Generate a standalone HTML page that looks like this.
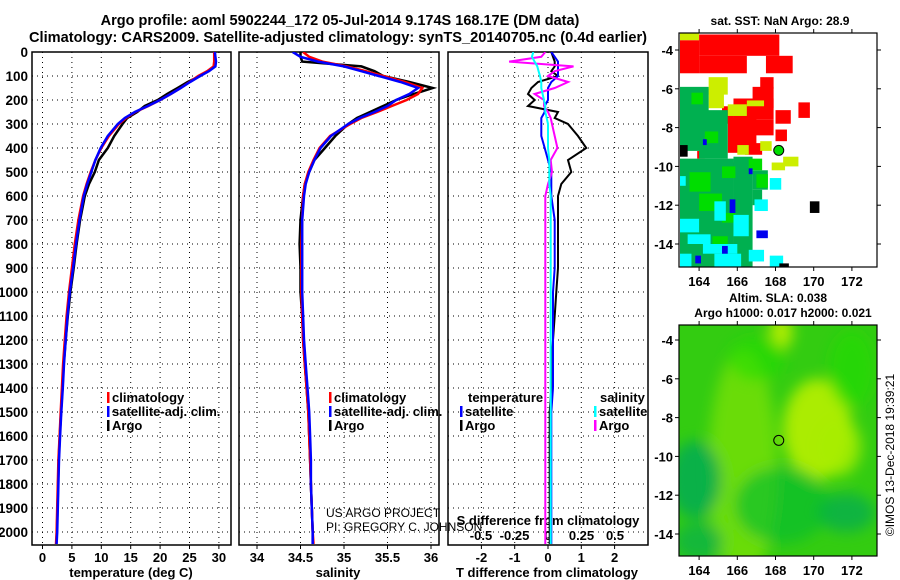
<!DOCTYPE html>
<html><head><meta charset="utf-8">
<style>
html,body{margin:0;padding:0;background:#fff;}
svg{display:block;font-family:"Liberation Sans",sans-serif;}
.b{font-weight:bold;}
</style></head>
<body>
<svg id="fig" width="900" height="580" viewBox="0 0 900 580">
<defs>
<clipPath id="c1"><rect x="32" y="52" width="199" height="493"/></clipPath>
<clipPath id="c2"><rect x="239" y="52" width="200" height="493"/></clipPath>
<clipPath id="c3"><rect x="448" y="52" width="200" height="493"/></clipPath>
<clipPath id="cm1"><rect x="679" y="33" width="198" height="234"/></clipPath>
<clipPath id="cm2"><rect x="679" y="325" width="198" height="231"/></clipPath>
<filter id="blur" x="-50%" y="-50%" width="200%" height="200%"><feGaussianBlur stdDeviation="7"/></filter>
</defs>
<text x="340" y="25" text-anchor="middle" class="b" font-size="14.5">Argo profile: aoml 5902244_172 05-Jul-2014 9.174S 168.17E (DM data)</text>
<text x="338" y="42" text-anchor="middle" class="b" font-size="14.6">Climatology: CARS2009. Satellite-adjusted climatology: synTS_20140705.nc (0.4d earlier)</text>
<g id="g"></g>
<text x="780" y="25" text-anchor="middle" class="b" font-size="12">sat. SST: NaN Argo: 28.9</text>
<text x="778" y="302" text-anchor="middle" class="b" font-size="12">Altim. SLA: 0.038</text>
<text x="783" y="317" text-anchor="middle" class="b" font-size="12">Argo h1000: 0.017 h2000: 0.021</text>
<text transform="translate(894,455) rotate(-90)" text-anchor="middle" font-size="12">©IMOS 13-Dec-2018 19:39:21</text>
</svg>
<script>
const depths=[0,20,40,60,80,100,125,150,175,200,225,250,275,300,350,400,450,500,550,600,700,800,900,1000,1100,1200,1300,1400,1500,1600,1700,1800,1900,2000,2050];
const climT=[29.2,29.2,29.2,29.1,28,26.5,25,23.5,21.8,20,18,15.8,14.2,13,11.3,10,9,8.2,7.5,6.9,6.1,5.5,5.0,4.5,4.1,3.8,3.5,3.3,3.1,2.9,2.7,2.6,2.5,2.4,2.3];
const satT=[29.3,29.4,29.5,29.4,28.3,26.8,25.1,23.5,21.8,20,17.9,15.7,14,12.8,11.1,9.9,9.0,8.3,7.6,7.0,6.3,5.7,5.2,4.65,4.25,3.95,3.65,3.45,3.2,3.0,2.8,2.7,2.6,2.5,2.4];
const argoT=[29.3,29.35,29.4,29.3,28.1,26.8,24.7,23,21.2,19.6,17.4,16.1,14.4,13.6,12.2,11.1,9.6,8.9,7.9,7.2,6.4,5.8,5.3,4.75,4.3,3.95,3.6,3.4,3.15,2.95,2.75,2.65,2.55,2.45,2.35];
const climS=[34.53,34.6,34.75,35.03,35.25,35.45,35.7,35.9,35.85,35.72,35.55,35.38,35.2,35.07,34.84,34.72,34.65,34.59,34.55,34.53,34.52,34.51,34.51,34.51,34.52,34.53,34.55,34.57,34.59,34.6,34.61,34.62,34.63,34.64,34.65];
const satS=[34.41,34.5,34.7,35.0,35.2,35.4,35.65,35.85,35.75,35.6,35.5,35.35,35.18,35.05,34.85,34.73,34.66,34.6,34.56,34.54,34.52,34.52,34.52,34.52,34.53,34.54,34.56,34.58,34.6,34.61,34.62,34.62,34.63,34.64,34.64];
const argoS=[34.5,34.5,34.52,35.2,35.35,35.45,35.75,36.02,35.8,35.6,35.45,35.3,35.15,35.05,34.9,34.78,34.66,34.6,34.55,34.53,34.5,34.49,34.5,34.5,34.52,34.53,34.55,34.57,34.59,34.6,34.61,34.62,34.63,34.64,34.64];
const dTsat=[0.1,0.2,0.3,0.3,0.3,0.3,0.1,0,0,0,-0.1,-0.1,-0.2,-0.2,-0.2,-0.1,0,0.1,0.1,0.1,0.2,0.2,0.2,0.15,0.15,0.15,0.15,0.15,0.1,0.1,0.1,0.1,0.1,0.1,0.1];
const dTargo=[0.1,0.15,0.2,0.2,0.1,0.3,-0.3,-0.5,-0.6,-0.4,-0.6,0.3,0.2,0.6,0.9,1.15,0.6,0.7,0.4,0.3,0.3,0.3,0.3,0.25,0.2,0.15,0.1,0.1,0.05,0.05,0.05,0.05,0.05,0.05,0.05];
const dSsat=[-0.11,-0.12,-0.1,-0.08,-0.07,-0.06,-0.05,-0.05,-0.04,-0.03,-0.02,-0.02,-0.01,0,0,0,0.01,0.01,0.01,0.02,0.02,0.02,0.02,0.02,0.02,0.02,0.02,0.02,0.02,0.02,0.02,0.02,0.02,0.02,0.02];
const dSargo=[-0.02,-0.05,-0.29,0.19,0.05,0.0,0.15,0.05,-0.1,-0.03,-0.03,0,0.02,0.03,0.05,0.07,0.02,0.03,0,-0.02,-0.02,-0.02,-0.02,-0.02,-0.02,-0.02,-0.02,-0.02,-0.02,-0.02,-0.02,-0.02,-0.02,-0.02,-0.02];
const depthTicks=[0,100,200,300,400,500,600,700,800,900,1000,1100,1200,1300,1400,1500,1600,1700,1800,1900,2000];
const tTicks=[0,5,10,15,20,25,30];
const sTicks=[34,34.5,35,35.5,36];
const dTTicks=[-2,-1,0,1,2];
const dSTicks=[-0.5,-0.25,0,0.25,0.5];
const sstRects=[
 [163,-3.1,164,-3.5,"#ccee00"],[164,-3.2,168.2,-4.3,"#ff0000"],[163,-3.5,164,-5.2,"#ff0000"],[164,-4.3,166.5,-5.2,"#ff0000"],
 [167.5,-4.3,168.9,-5.2,"#ff0000"],[167.2,-5.4,167.9,-6.0,"#ff0000"],[166.8,-5.9,167.9,-7.0,"#ff0000"],[165.8,-6.5,167.9,-7.6,"#ff0000"],
 [168,-7.1,168.8,-7.8,"#ff0000"],[169.2,-6.7,169.8,-7.5,"#ff0000"],[165.5,-7.5,167,-9.3,"#ff0000"],[166.4,-8.8,167.3,-9.4,"#ff0000"],
 [166.8,-7.6,167.9,-8.4,"#ff0000"],[165.2,-6.9,165.8,-7.8,"#ff0000"],[164.3,-7.7,165,-8.1,"#ff0000"],
 [168.0,-8.1,168.6,-8.7,"#ff0000"],[163,-7.7,163.9,-8.8,"#ff0000"],[163.9,-9.2,164.3,-9.6,"#ff0000"],[165,-9.8,166.3,-10.3,"#ff0000"],
 [164.5,-5.4,165.5,-6.3,"#ccee00"],[164.5,-6.0,165.3,-7.0,"#ccee00"],[165.5,-6.8,166.5,-7.4,"#ccee00"],[166.5,-6.6,167.4,-6.9,"#ccee00"],
 [167.8,-9.8,168.5,-10.2,"#ccee00"],[168.4,-9.5,169.2,-10.0,"#ccee00"],[167.2,-8.7,167.8,-9.2,"#ccee00"],[166.0,-8.9,166.6,-9.4,"#ccee00"],
 [163,-5.9,164.5,-9.2,"#00b050"],[163.6,-6.2,164.2,-6.8,"#00dd00"],[164,-7.1,165.5,-9.6,"#00b050"],[164.3,-8.2,165,-8.8,"#00dd00"],
 [163,-9.6,165.8,-15.2,"#00b050"],[165.8,-9.5,166.8,-15.2,"#00b050"],[166.8,-10.2,167.6,-11.2,"#00b050"],[166.8,-11.2,167.3,-12.0,"#00b050"],
 [163.5,-10.3,164.6,-11.3,"#00dd00"],[165.2,-10.0,165.9,-10.6,"#00dd00"],[164,-11.4,165.2,-12.3,"#00dd00"],[166.6,-9.6,167.3,-10.2,"#00dd00"],
 [167.0,-10.4,167.6,-11.1,"#00dd00"],[165.2,-12.4,165.9,-12.9,"#00dd00"],[164.7,-13.6,165.5,-14.1,"#00dd00"],
 [163,-10.5,163.3,-11.0,"#00ffff"],[164.8,-11.8,165.4,-12.8,"#00ffff"],[163,-12.7,164,-13.4,"#00ffff"],[163.4,-13.5,164.6,-14.0,"#00ffff"],
 [164.2,-14.0,166,-14.5,"#00ffff"],[163,-14.5,163.6,-15.2,"#00ffff"],[165.8,-12.5,166.6,-13.6,"#00ffff"],[164.8,-14.5,166.2,-15.2,"#00ffff"],
 [166.6,-14.3,167.4,-14.9,"#00ffff"],[167.7,-10.6,168.3,-11.2,"#00ffff"],[166.9,-11.7,167.6,-12.3,"#00ffff"],[167.7,-14.6,168.4,-15.2,"#00ffff"],
 [165.6,-11.7,165.9,-12.4,"#0000ee"],[167.0,-13.3,167.6,-13.7,"#0000ee"],[163.8,-14.6,164.1,-15.0,"#0000ee"],[165.2,-14.1,165.5,-14.5,"#0000ee"],
 [164.2,-8.6,164.4,-8.9,"#0000ee"],[166.6,-10.1,166.8,-10.4,"#0000ee"],
 [163,-8.9,163.4,-9.5,"#000000"],[169.8,-11.8,170.3,-12.4,"#000000"],[168.2,-15.0,168.7,-15.2,"#000000"]];
const slaBlobs=[[166.3,-10.5,1.8,6,"#a0ee00",0.5],[170.2,-8.6,1.8,2.6,"#b8f000",0.9],[171.3,-9.5,1.2,1.5,"#a8ee00",0.8],
 [168.3,-3.6,0.6,0.9,"#bbf000",0.9],[163.8,-11.2,1.4,2,"#00aa55",0.8],[171.7,-12.9,1.5,1,"#00aa55",0.7],[168.3,-12.5,2.5,2,"#00bb33",0.6],
 [164,-14.4,1.3,1,"#00aa55",0.6],[167,-5,1.5,1.2,"#22dd00",0.6],[172,-5.5,1.2,2,"#22dd00",0.6]];
const NS="http://www.w3.org/2000/svg";
const G=document.getElementById('g');
function mk(tag,at,par){const e=document.createElementNS(NS,tag);for(const k in at)e.setAttribute(k,at[k]);(par||G).appendChild(e);return e;}
const yD=d=>52+d*0.24;
const xT=t=>42.5+t*5.88, xS=s=>257+(s-34)*87, xdT=t=>548+t*33.3, xdS=s=>548+s*134;
const dot="1,4";
function frame(x0,x1,name,vt,fx){
  const gg=mk('g',{});
  
  
  depthTicks.forEach(d=>{const l=mk('line',{x1:x0,x2:x1,y1:yD(d),y2:yD(d),stroke:'#000','stroke-dasharray':dot,'stroke-width':1},gg);
    
    });
  vt.forEach(v=>{const l=mk('line',{x1:fx(v),x2:fx(v),y1:52,y2:545,stroke:'#000','stroke-dasharray':dot,'stroke-width':1},gg);
    
    
    mk('line',{x1:fx(v),x2:fx(v),y1:545,y2:549,stroke:'#000'},gg);});
  const r=mk('rect',{x:x0,y:52,width:x1-x0,height:493,fill:'none',stroke:'#000','stroke-width':1.5},gg);
  
  
  return gg;
}
function line(xs,fx,col,clip,name,w){
  const p=mk('polyline',{points:depths.map((d,i)=>fx(xs[i]).toFixed(1)+','+yD(d).toFixed(1)).join(' '),fill:'none',stroke:col,'stroke-width':w||2.5,'clip-path':'url(#'+clip+')','stroke-linejoin':'miter'});
  
  
}
function txt(x,y,s,o){const t=mk('text',Object.assign({x:x,y:y,'font-size':13,'font-weight':'bold'},o||{}));t.textContent=s;return t;}
frame(32,231,'temperature-panel',tTicks,xT);
frame(239,439,'salinity-panel',sTicks,xS);
frame(448,648,'difference-panel',dTTicks,xdT);
depthTicks.forEach(d=>{const t=txt(28,yD(d)+5,String(d),{'text-anchor':'end','font-size':13.5});
  
  });
tTicks.forEach(v=>{const t=txt(xT(v),562,String(v),{'text-anchor':'middle'});
  
  });
sTicks.forEach(v=>{const t=txt(xS(v),562,String(v),{'text-anchor':'middle'});
  
  });
dTTicks.forEach(v=>{const t=txt(xdT(v),562,String(v),{'text-anchor':'middle'});
  
  });
dSTicks.forEach(v=>{const t=txt(xdS(v),540,String(v),{'text-anchor':'middle'});
  
  });
let a=txt(131,577,'temperature (deg C)',{'text-anchor':'middle'});


a=txt(338,577,'salinity',{'text-anchor':'middle'});


a=txt(547,577,'T difference from climatology',{'text-anchor':'middle'});


a=txt(548,525,'S difference from climatology',{'text-anchor':'middle'});


line(argoT,xT,'#000','c1','argo-temperature-line');
line(climT,xT,'#ff0000','c1','climatology-temperature-line');
line(satT,xT,'#0000ff','c1','satellite-temperature-line');
line(argoS,xS,'#000','c2','argo-salinity-line');
line(climS,xS,'#ff0000','c2','climatology-salinity-line');
line(satS,xS,'#0000ff','c2','satellite-salinity-line');
line(dTargo,xdT,'#000','c3','argo-t-difference-line',2);
line(dTsat,xdT,'#0000ff','c3','satellite-t-difference-line',2);
line(dSargo,xdS,'#ff00ff','c3','argo-s-difference-line',2);
line(dSsat,xdS,'#00ffff','c3','satellite-s-difference-line',2);
function leg(x,y,col,s,name){const g=mk('g',{});
  
  
  mk('rect',{x:x,y:y-10,width:2.5,height:11,fill:col},g);
  const t=mk('text',{x:x+5,y:y,'font-size':13,'font-weight':'bold'},g);t.textContent=s;}
leg(107,402,'#ff0000','climatology','legend-climatology-t');
leg(107,416,'#0000ff','satellite-adj. clim.','legend-satellite-t');
leg(107,430,'#000','Argo','legend-argo-t');
leg(329,402,'#ff0000','climatology','legend-climatology-s');
leg(329,416,'#0000ff','satellite-adj. clim.','legend-satellite-s');
leg(329,430,'#000','Argo','legend-argo-s');
a=txt(468,402,'temperature',{'font-size':13});


a=txt(600,402,'salinity',{'font-size':13});


leg(460,416,'#0000ff','satellite','legend-t-satellite');
leg(460,430,'#000','Argo','legend-t-argo');
leg(594,416,'#00ffff','satellite','legend-s-satellite');
leg(594,430,'#ff00ff','Argo','legend-s-argo');
a=txt(326,517,'US ARGO PROJECT',{'font-weight':'normal','font-size':12});


a=txt(326,531,'PI: GREGORY C. JOHNSON',{'font-weight':'normal','font-size':12});


const mx=lon=>680+(lon-163)*19.1;
const my1=lat=>50+(-4-lat)*19.4, my2=lat=>340+(-4-lat)*19.4;
const lonTicks=[164,166,168,170,172], latTicks=[-4,-6,-8,-10,-12,-14];
function mapFrame(y0,h,my,name){
  const g=mk('g',{});
  
  
  mk('rect',{x:679,y:y0,width:198,height:h,fill:'none',stroke:'#000','stroke-width':1.2},g);
  lonTicks.forEach(v=>{mk('line',{x1:mx(v),x2:mx(v),y1:y0,y2:y0-4,stroke:'#000'},g);mk('line',{x1:mx(v),x2:mx(v),y1:y0+h,y2:y0+h+4,stroke:'#000'},g);
    const t=mk('text',{x:mx(v),y:y0+h+19,'text-anchor':'middle','font-size':13,'font-weight':'bold'},g);t.textContent=v;});
  latTicks.forEach(v=>{mk('line',{x1:675,x2:679,y1:my(v),y2:my(v),stroke:'#000'},g);mk('line',{x1:877,x2:881,y1:my(v),y2:my(v),stroke:'#000'},g);
    const t=mk('text',{x:673,y:my(v)+5,'text-anchor':'end','font-size':13,'font-weight':'bold'},g);t.textContent=v;});
}
const sg=mk('g',{'clip-path':'url(#cm1)'});


sstRects.forEach(r=>{const e=mk('rect',{x:mx(r[0]),y:my1(r[1]),width:mx(r[2])-mx(r[0]),height:my1(r[3])-my1(r[1]),fill:r[4]},sg);
  
  });
let c=mk('circle',{cx:mx(168.17),cy:my1(-9.174),r:5,fill:'#00dd00',stroke:'#000','stroke-width':1});


mapFrame(33,234,my1,'sst-map-axes');
const lg=mk('g',{'clip-path':'url(#cm2)'});


mk('rect',{x:679,y:325,width:198,height:231,fill:'#33cc11'},lg);
const bg=mk('g',{filter:'url(#blur)'},lg);
slaBlobs.forEach(b=>{const e=mk('ellipse',{cx:mx(b[0]),cy:my2(b[1]),rx:b[2]*19.1,ry:b[3]*19.4,fill:b[4],opacity:b[5]},bg);
  
  });
c=mk('circle',{cx:mx(168.17),cy:my2(-9.174),r:5,fill:'none',stroke:'#000','stroke-width':1});


mapFrame(325,231,my2,'sla-map-axes');
</script>
</body></html>
